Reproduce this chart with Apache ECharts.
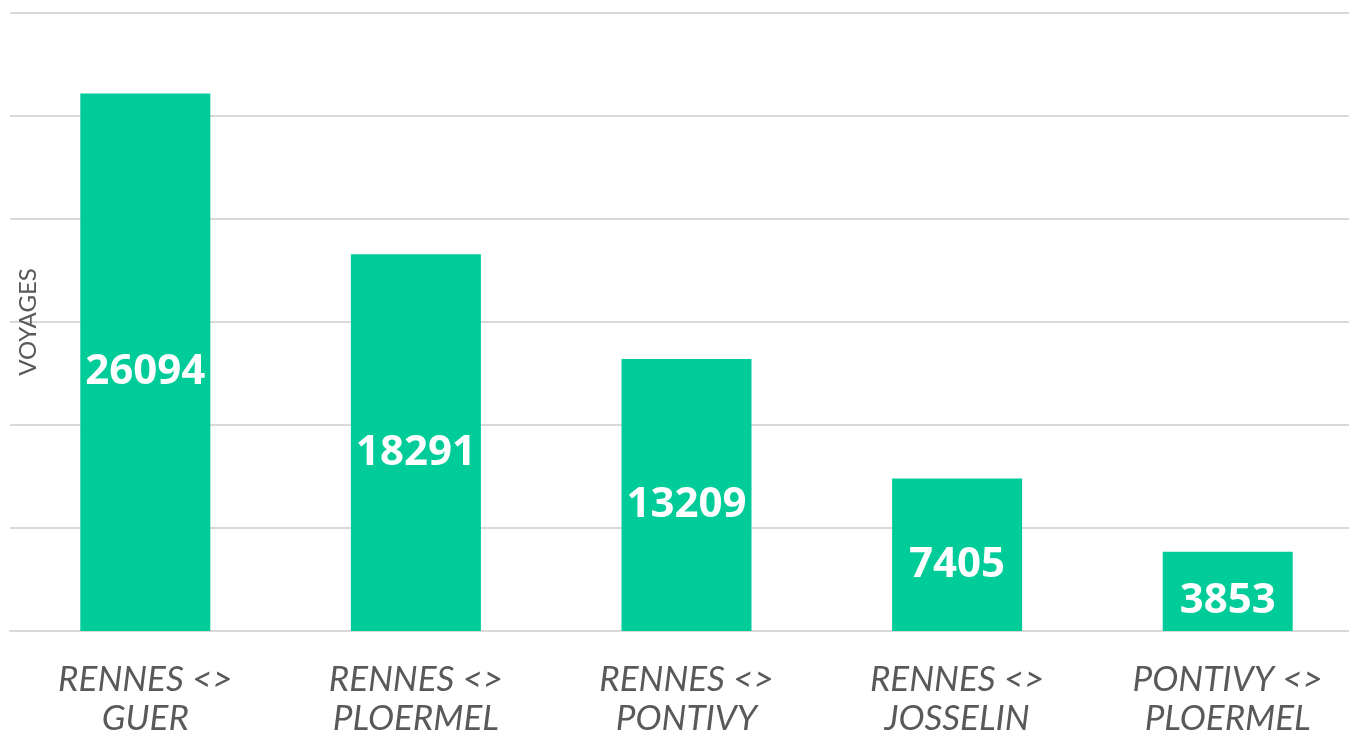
<!DOCTYPE html>
<html><head><meta charset="utf-8">
<script src="https://cdn.jsdelivr.net/npm/echarts@6/dist/echarts.min.js"></script>
<style>html,body{margin:0;padding:0;background:#fff;overflow:hidden}#c{width:1363px;height:738px}</style>
</head><body><div id="c"></div>
<script>
const categories = ['RENNES <>\nGUER', 'RENNES <>\nPLOERMEL', 'RENNES <>\nPONTIVY', 'RENNES <>\nJOSSELIN', 'PONTIVY <>\nPLOERMEL'];
const voyages = [26094, 18291, 13209, 7405, 3853];
const yMax = 30000;
const yInterval = 5000;

const chart = echarts.init(document.getElementById('c'), null, {renderer: 'canvas'});
chart.setOption({
  animation: false,
  grid: {left: 10, right: 0, top: 13, bottom: 103, containLabel: false},
  xAxis: {
    type: 'category', data: categories,
    axisLine: {show: true, lineStyle: {color: '#d9d9d9', width: 2}},
    axisTick: {show: false},
    axisLabel: {color: '#595959', fontFamily: 'Lato', fontStyle: 'italic', fontSize: 35, lineHeight: 39, margin: 29, interval: 0}
  },
  yAxis: {
    type: 'value', min: 0, max: yMax, interval: yInterval,
    name: 'VOYAGES', nameLocation: 'middle', nameGap: -30, nameRotate: 90,
    nameTextStyle: {color: '#595959', fontFamily: 'Lato', fontSize: 24},
    axisLine: {show: false}, axisTick: {show: false}, axisLabel: {show: false},
    splitLine: {lineStyle: {color: '#d9d9d9', width: 2}}
  },
  series: [{
    type: 'bar', data: voyages, barWidth: 130,
    itemStyle: {color: '#00CC99'},
    label: {show: true, position: 'inside', offset: [0, 10], color: '#ffffff', fontFamily: 'Open Sans', fontWeight: 'bold', fontSize: 42}
  }]
});
</script></body></html>
